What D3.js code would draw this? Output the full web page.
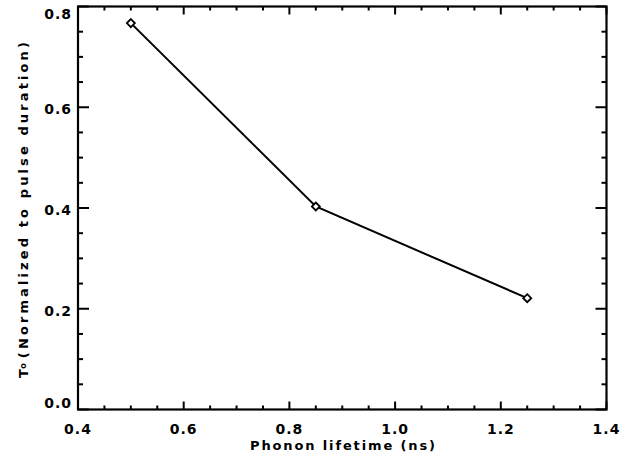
<!DOCTYPE html>
<html>
<head>
<meta charset="utf-8">
<script src="https://cdn.jsdelivr.net/npm/d3@7"></script>
<style>
  html, body { margin: 0; padding: 0; background: #fff; }
  svg { display: block; }
  text { font-family: "DejaVu Sans", "Liberation Sans", Arial, sans-serif; font-weight: bold; fill: #000; }
</style>
</head>
<body>
<script>
// Data
const lifetimes = [0.5, 0.85, 1.25];            // Phonon lifetime (ns)
const tauValues = [0.767, 0.403, 0.221];        // T_o normalized to pulse duration
const xTicks = [0.4, 0.6, 0.8, 1.0, 1.2, 1.4];
const yTicks = [0.0, 0.2, 0.4, 0.6, 0.8];
const xMinorTicks = d3.range(0, 21).map(i => 0.4 + i * 0.05);
const yMinorTicks = d3.range(0, 17).map(i => i * 0.05);

const W = 634, H = 466;
const svg = d3.select("body").append("svg").attr("width", W).attr("height", H);

const x = d3.scaleLinear().domain([0.4, 1.4]).range([78, 606.5]);
const y = d3.scaleLinear().domain([0, 0.8]).range([409.5, 6.5]);

const g = svg.append("g");

// Frame
g.append("rect")
  .attr("x", x(0.4)).attr("y", y(0.8))
  .attr("width", x(1.4) - x(0.4)).attr("height", y(0) - y(0.8))
  .attr("fill", "none").attr("stroke", "#000").attr("stroke-width", 2.2);

const isMajor = (v, arr) => arr.some(t => Math.abs(t - v) < 1e-6);

// X ticks (bottom and top, inward)
xMinorTicks.forEach(v => {
  const len = isMajor(v, xTicks) ? 8 : 4;
  g.append("line").attr("x1", x(v)).attr("x2", x(v))
    .attr("y1", y(0)).attr("y2", y(0) - len)
    .attr("stroke", "#000").attr("stroke-width", 2);
  g.append("line").attr("x1", x(v)).attr("x2", x(v))
    .attr("y1", y(0.8)).attr("y2", y(0.8) + len)
    .attr("stroke", "#000").attr("stroke-width", 2);
});
// Y ticks (left and right, inward)
yMinorTicks.forEach(v => {
  const len = isMajor(v, yTicks) ? 11 : 5;
  g.append("line").attr("x1", x(0.4)).attr("x2", x(0.4) + len)
    .attr("y1", y(v)).attr("y2", y(v))
    .attr("stroke", "#000").attr("stroke-width", 2);
  g.append("line").attr("x1", x(1.4)).attr("x2", x(1.4) - len)
    .attr("y1", y(v)).attr("y2", y(v))
    .attr("stroke", "#000").attr("stroke-width", 2);
});

// X tick labels
g.selectAll(".xl").data(xTicks).enter().append("text")
  .attr("x", d => x(d)).attr("y", 434)
  .attr("text-anchor", "middle")
  .attr("font-size", 14).attr("letter-spacing", 1)
  .text(d => d.toFixed(1));

// Y tick labels
g.selectAll(".yl").data(yTicks).enter().append("text")
  .attr("x", 72).attr("y", d => Math.min(Math.max(y(d) + 7, 19), 408))
  .attr("text-anchor", "end")
  .attr("font-size", 14).attr("letter-spacing", 1)
  .text(d => d.toFixed(1));

// X axis title
g.append("text")
  .attr("x", 250).attr("y", 450)
  .attr("font-size", 13)
  .attr("textLength", 185).attr("lengthAdjust", "spacing")
  .text("Phonon lifetime (ns)");

// Y axis title
const yt = g.append("text")
  .attr("transform", "translate(28,378) rotate(-90)")
  .attr("font-size", 13);
yt.append("tspan").text("T");
yt.append("tspan").attr("font-size", 8).attr("dx", 0.5).attr("dy", -2).text("o");
yt.append("tspan").attr("dx", 5).attr("dy", 2).text("(Normalized to pulse duration)")
  .attr("textLength", 316).attr("lengthAdjust", "spacing");

// Line
const pts = lifetimes.map((v, i) => [v, tauValues[i]]);
g.append("path")
  .datum(pts)
  .attr("d", d3.line().x(d => x(d[0])).y(d => y(d[1])))
  .attr("fill", "none").attr("stroke", "#000").attr("stroke-width", 2);

// Diamond markers
g.selectAll(".pt").data(pts).enter().append("path")
  .attr("transform", d => `translate(${x(d[0])},${y(d[1])})`)
  .attr("d", "M0,-4L4,0L0,4L-4,0Z")
  .attr("fill", "#fff").attr("stroke", "#000").attr("stroke-width", 1.8);
</script>
</body>
</html>
